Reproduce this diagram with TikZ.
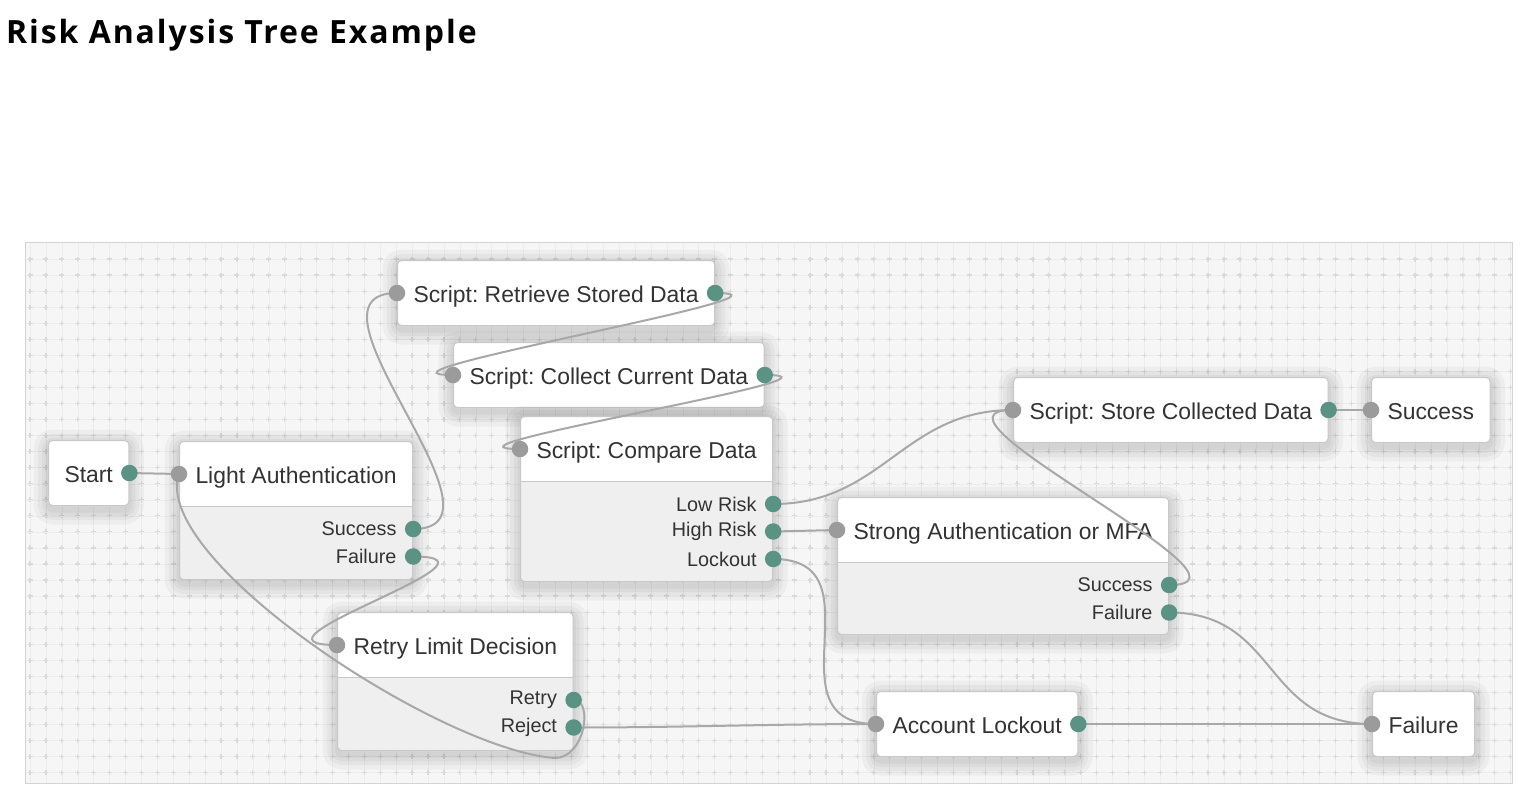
\documentclass[tikz,border=0pt]{standalone}
\usepackage{fontspec}
\setmainfont{Liberation Sans}
\newfontfamily\headfont{Open Sans}[LetterSpace=6]
\usetikzlibrary{positioning}
\definecolor{canvas}{HTML}{F6F6F6}
\definecolor{gridline}{HTML}{ECECEC}
\definecolor{gridcross}{HTML}{DADADA}
\definecolor{boxline}{HTML}{C8C8C8}
\definecolor{bodygrey}{HTML}{EFEFEF}
\definecolor{wiregrey}{HTML}{A8A8A8}
\definecolor{portgreen}{HTML}{5A9384}
\definecolor{portgrey}{HTML}{9B9B9B}
\definecolor{ink}{HTML}{333333}
\pgfdeclarelayer{front}
\pgfsetlayers{main,front}
\tikzset{halo/.style={preaction={draw=black, draw opacity=0.034, line width=#1,
           line join=round, transform canvas={yshift=-4pt}}},
         box/.style={draw=boxline, line width=1pt, fill=white, rounded corners=4pt,
         anchor=north west, inner xsep=16pt, inner ysep=0pt,
         text height=42pt, text depth=#1pt, text=ink,
         font=\fontsize{22.9}{27}\selectfont,
         halo=30pt, halo=21pt, halo=13pt, halo=6pt},
         box/.default={23},
         decision/.style={box=#1, path picture={
           \fill[bodygrey, sharp corners] ([yshift=-65pt]path picture bounding box.north west) rectangle (path picture bounding box.south east);
           \draw[boxline, sharp corners] ([yshift=-65pt]path picture bounding box.north west) -- ([yshift=-65pt]path picture bounding box.north east);}},
         port/.style={circle, inner sep=0pt, minimum size=16.5pt},
         inport/.style={port, fill=portgrey},
         outport/.style={port, fill=portgreen},
         portlabel/.style={inner sep=0pt, text=ink, font=\fontsize{19.8}{23}\selectfont},
         wire/.style={draw=wiregrey, line width=2pt}}

\begin{document}
\frenchspacing
\begin{tikzpicture}[x=1pt,y=-1pt]
  \useasboundingbox (0,0) rectangle (1520,796);
  \node[anchor=base west, inner sep=0pt, font=\headfont\bfseries\fontsize{32}{36}\selectfont] (title) at (6,43) {Risk Analysis Tree Example};

  % canvas with grid
  \fill[canvas] (25,242) rectangle (1512,783);
  \foreach \x in {0,...,93} {
    \draw[gridline] ({30+15.92*\x},242) -- ({30+15.92*\x},783);
    \draw[gridcross, line width=1.2pt, dash pattern=on 5pt off 11.05pt] ({30+15.92*\x},256.5) -- ({30+15.92*\x},783);
  }
  \foreach \y in {0,...,32} {
    \draw[gridline] (25,{259+16.05*\y}) -- (1512,{259+16.05*\y});
    \draw[gridcross, line width=1.2pt, dash pattern=on 5pt off 10.92pt] (27.5,{259+16.05*\y}) -- (1512,{259+16.05*\y});
  }
  \draw[boxline!80] (25,242) rectangle (1512,783);

  \node[box] (start) at (48,440) {Start};
  \node[decision=96] (la) at (179,441) {Light Authentication};
  \node[box] (retrieve) at (397,260) {Script: Retrieve Stored Data};
  \node[box] (collect) at (453,342) {Script: Collect Current Data};
  \node[decision=123] (compare) at (520,416) {Script: Compare Data};
  \node[decision=96] (retry) at (337,612) {Retry Limit Decision};
  \node[box] (store) at (1013,377) {Script: Store Collected Data};
  \node[box] (success) at (1371,377) {Success};
  \node[decision=95] (strong) at (837,497) {Strong Authentication or MFA};
  \node[box] (lockout) at (876,691) {Account Lockout};
  \node[box] (failure) at (1372,691) {Failure};

  % ports
  \begin{pgfonlayer}{front}
    \foreach \b in {start,retrieve,collect,store,lockout}
      \node[outport] (\b-out) at ([yshift=-33pt]\b.north east) {};
    \foreach \b in {la,retrieve,collect,compare,retry,store,success,strong,lockout,failure}
      \node[inport] (\b-in) at ([yshift=-33pt]\b.north west) {};
    \foreach \b/\p/\t/\i in {la/success/Success/0, la/failure/Failure/1,
        compare/low/Low Risk/0, compare/high/High Risk/1, compare/lockout/Lockout/2,
        retry/retry/Retry/0, retry/reject/Reject/1,
        strong/success/Success/0, strong/failure/Failure/1} {
      \node[outport] (\b-\p) at ([yshift={-88pt-27.5pt*\i}]\b.north east) {};
      \node[portlabel, left=8pt of \b-\p] (\b-\p-txt) {\t};
    }
  \end{pgfonlayer}

  \draw[wire] (start-out.center) -- (la-in.center);
  \draw[wire] (la-success.center) .. controls +(110,0) and +(-110,0) .. (retrieve-in.center);
  \draw[wire] (la-failure.center) .. controls +(110,0) and +(-110,0) .. (retry-in.center);
  \draw[wire] (retry-retry.center) .. controls +(20,0) and +(30,0) .. (555,758)
    .. controls (440,750) and +(-29,85) .. (la-in.center);
  \draw[wire] (retrieve-out.center) .. controls +(110,0) and +(-110,0) .. (collect-in.center);
  \draw[wire] (collect-out.center) .. controls +(110,0) and +(-110,0) .. (compare-in.center);
  \draw[wire] (compare-low.center) .. controls +(110,0) and +(-110,0) .. (store-in.center);
  \draw[wire] (compare-high.center) -- (strong-in.center);
  \draw[wire] (compare-lockout.center) .. controls +(110,0) and +(-110,0) .. (lockout-in.center);
  \draw[wire] (strong-success.center) .. controls +(110,0) and +(-110,0) .. (store-in.center);
  \draw[wire] (strong-failure.center) .. controls +(110,0) and +(-110,0) .. (failure-in.center);
  \draw[wire] (retry-reject.center) .. controls +(110,0) and +(-110,0) .. (lockout-in.center);
  \draw[wire] (lockout-out.center) -- (failure-in.center);
  \draw[wire] (store-out.center) -- (success-in.center);
\end{tikzpicture}
\end{document}
